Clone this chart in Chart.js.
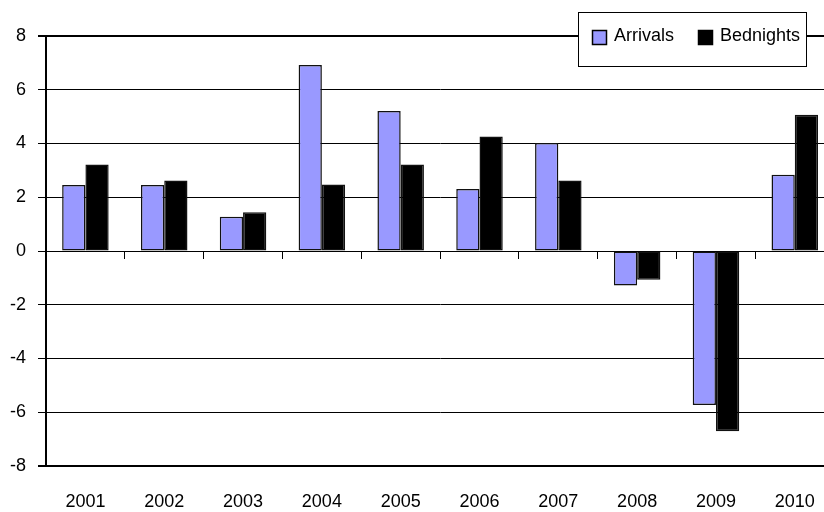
<!DOCTYPE html>
<html>
<head>
<meta charset="utf-8">
<script src="https://cdn.jsdelivr.net/npm/chart.js@4.4.0/dist/chart.umd.min.js"></script>
<style>
  html, body { margin: 0; padding: 0; background: #fff; overflow: hidden; }
  #wrap { width: 840px; height: 512px; position: relative; }
</style>
</head>
<body>
<div id="wrap"><canvas id="c" width="840" height="512"></canvas></div>
<script>
// Annual change, per cent
const years = ['2001', '2002', '2003', '2004', '2005', '2006', '2007', '2008', '2009', '2010'];
const arrivals = [2.46, 2.46, 1.27, 6.92, 5.21, 2.31, 4.02, -1.28, -5.73, 2.84];
const bednights = [3.22, 2.62, 1.44, 2.47, 3.22, 4.26, 2.62, -1.07, -6.71, 5.07];
const yTicks = [-8, -6, -4, -2, 0, 2, 4, 6, 8];

const FONT = '"Liberation Sans Narrow", "Arial Narrow", "Liberation Sans", Arial, sans-serif';
const FONT_SIZE = 18;

// Boxed legend in the top-right corner, drawn over the top gridline
const boxedLegend = {
  id: 'boxedLegend',
  afterDraw(chart) {
    const ctx = chart.ctx;
    const bx = 578.5, by = 12.5, bw = 228, bh = 54;
    ctx.save();
    ctx.fillStyle = '#fff';
    ctx.fillRect(bx, by, bw, bh);
    ctx.strokeStyle = '#000';
    ctx.lineWidth = 1;
    ctx.strokeRect(bx, by, bw, bh);
    ctx.font = FONT_SIZE + 'px ' + FONT;
    ctx.textBaseline = 'middle';
    let x = 592;
    const cy = 37;
    chart.data.datasets.forEach(ds => {
      ctx.fillStyle = ds.backgroundColor;
      ctx.fillRect(x + 0.5, cy - 7 + 0.5, 14, 14);
      ctx.strokeStyle = '#000';
      ctx.lineWidth = 1.5;
      ctx.strokeRect(x + 0.5, cy - 7 + 0.5, 14, 14);
      ctx.fillStyle = '#000';
      ctx.fillText(ds.label, x + 22, cy - 1);
      x += 22 + ctx.measureText(ds.label).width + 24;
    });
    ctx.restore();
  }
};

new Chart(document.getElementById('c'), {
  type: 'bar',
  data: {
    labels: years,
    datasets: [
      {
        label: 'Arrivals',
        data: arrivals,
        backgroundColor: '#9999ff',
        borderColor: '#111',
        borderWidth: 1.5,
        borderSkipped: false,
        categoryPercentage: 0.59,
        barPercentage: 1.0
      },
      {
        label: 'Bednights',
        data: bednights,
        backgroundColor: '#000000',
        borderColor: '#111',
        borderWidth: 1.5,
        borderSkipped: false,
        categoryPercentage: 0.59,
        barPercentage: 1.0
      }
    ]
  },
  options: {
    responsive: false,
    animation: false,
    devicePixelRatio: 1,
    layout: { padding: { top: 36, right: 4, left: 0, bottom: 0 } },
    plugins: {
      legend: { display: false },
      tooltip: { enabled: false }
    },
    scales: {
      x: {
        position: 'bottom',
        offset: true,
        grid: { display: false, drawTicks: false },
        border: { display: true, color: '#000', width: 2 },
        ticks: { color: '#000', font: { family: FONT, size: FONT_SIZE }, padding: 25, maxRotation: 0, autoSkip: false },
        afterFit(s) { s.height = 46; }
      },
      // category divider ticks along the zero line
      xz: {
        type: 'category',
        labels: years,
        position: { y: 0 },
        offset: true,
        grid: { offset: true, drawOnChartArea: false, drawTicks: true, tickLength: 7, color: '#000', lineWidth: 1 },
        border: { display: true, color: '#000', width: 1 },
        ticks: { display: false }
      },
      y: {
        min: -8,
        max: 8,
        afterBuildTicks(s) { s.ticks = yTicks.map(v => ({ value: v })); },
        grid: {
          color: '#000',
          lineWidth: ctx => (ctx.tick && (ctx.tick.value === 8 || ctx.tick.value === -8)) ? 2 : 1,
          drawTicks: true,
          tickLength: 8
        },
        border: { display: true, color: '#000', width: 2 },
        ticks: { color: '#000', font: { family: FONT, size: FONT_SIZE }, padding: 12 },
        afterFit(s) { s.width = 46; }
      }
    }
  },
  plugins: [boxedLegend]
});
</script>
</body>
</html>
